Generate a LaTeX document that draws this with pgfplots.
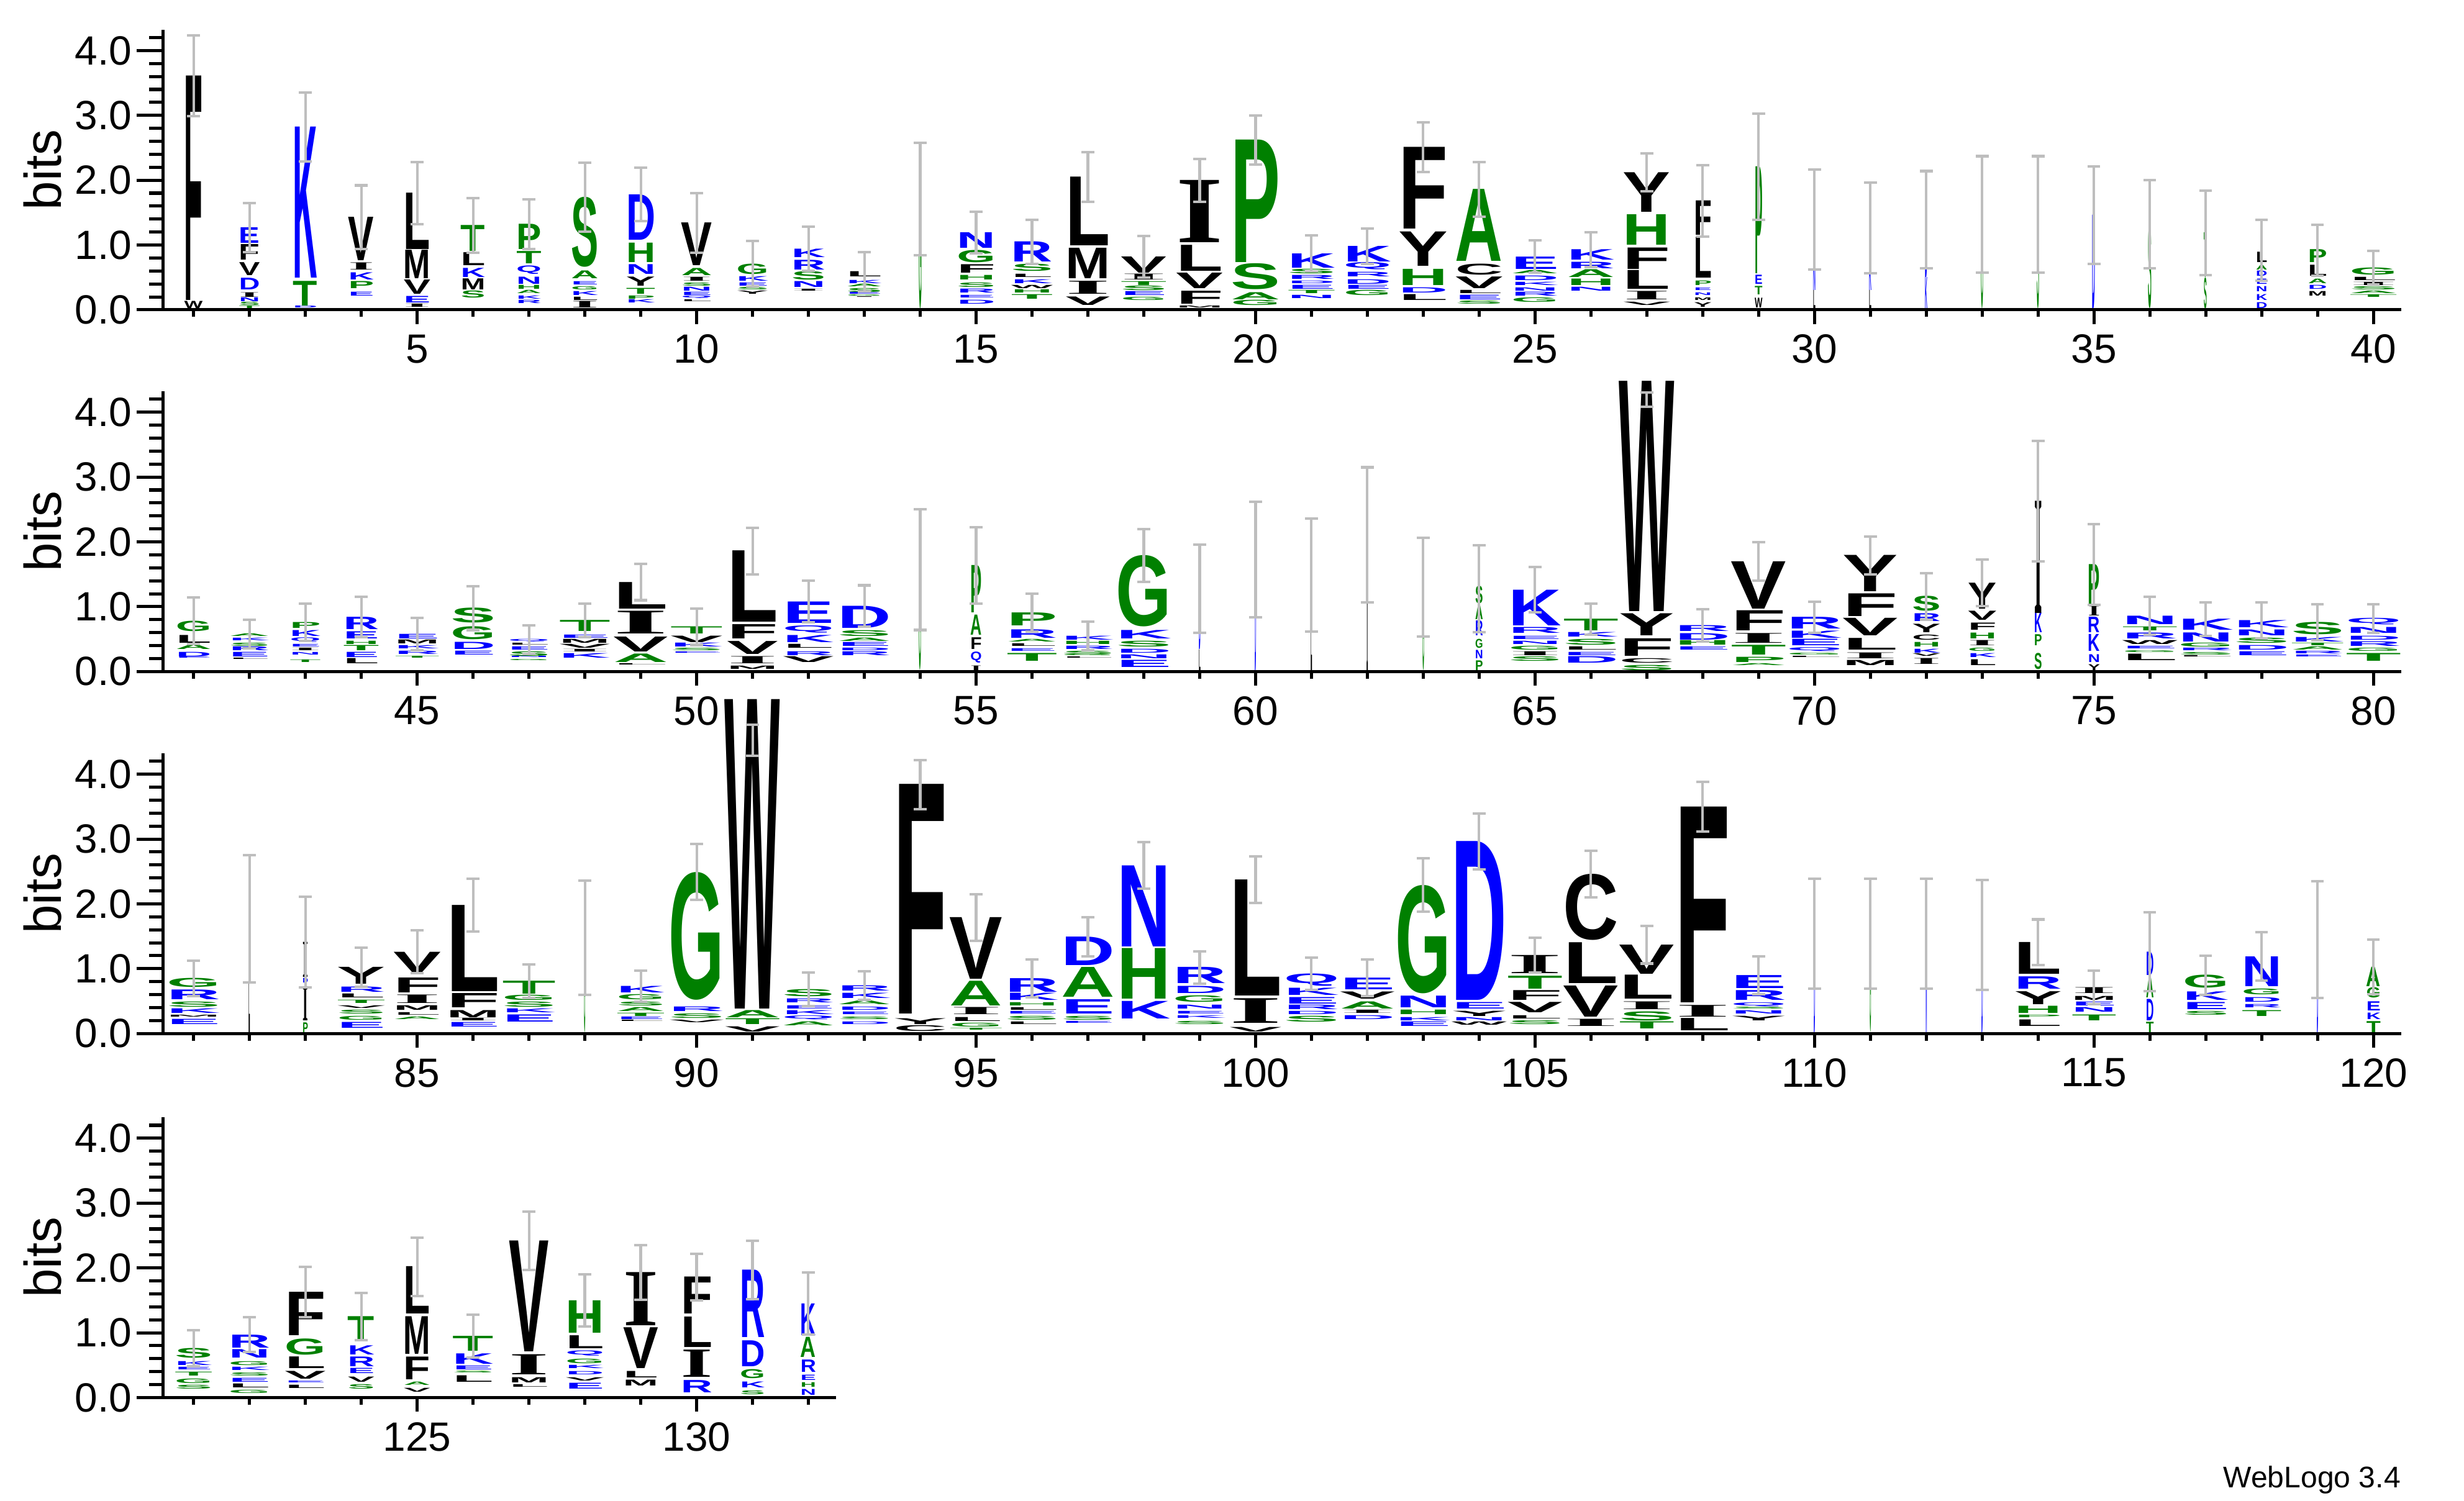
\documentclass[border=0pt]{standalone}
\usepackage{pgfplots}
\pgfplotsset{compat=1.18}
\usepackage{pgfplotstable}
\usepackage{graphicx}
\usepackage{fontspec}
\setmainfont{Liberation Sans}
\newfontfamily\serifIfont{Liberation Serif}

\definecolor{lg}{RGB}{0,128,0}
\definecolor{lb}{RGB}{0,0,255}
\definecolor{lk}{RGB}{0,0,0}
\definecolor{ebgray}{RGB}{190,190,190}
\colorlet{cG}{lg}\colorlet{cS}{lg}\colorlet{cT}{lg}\colorlet{cA}{lg}\colorlet{cP}{lg}\colorlet{cH}{lg}
\colorlet{cD}{lb}\colorlet{cE}{lb}\colorlet{cK}{lb}\colorlet{cR}{lb}\colorlet{cN}{lb}\colorlet{cQ}{lb}
\colorlet{cC}{lk}\colorlet{cV}{lk}\colorlet{cI}{lk}\colorlet{cL}{lk}\colorlet{cM}{lk}\colorlet{cF}{lk}\colorlet{cY}{lk}\colorlet{cW}{lk}
\expandafter\def\csname fI\endcsname{\serifIfont}

\newcommand\LogoLetter{%
  \edef\LLc{c\pgfplotspointmeta}%
  \edef\LLf{f\pgfplotspointmeta}%
  \expandafter\color\expandafter{\LLc}%
  \resizebox*{\ww pt}{\hh pt}{\csname\LLf\endcsname\bfseries\pgfplotspointmeta}}

\pgfplotstableread{
x lo hi w L
1 0.02 0.13 0.31 W
1 0.15 3.61 0.31 F
2 0.02 0.06 0.35 T
2 0.07 0.12 0.35 S
2 0.13 0.19 0.35 N
2 0.20 0.27 0.35 I
2 0.31 0.49 0.35 D
2 0.53 0.73 0.35 V
2 0.77 1.01 0.35 F
2 1.03 1.27 0.35 E
3 0.02 0.05 0.41 D
3 0.06 0.44 0.41 T
3 0.49 2.82 0.41 K
4 0.21 0.27 0.43 E
4 0.33 0.44 0.43 P
4 0.46 0.57 0.43 K
4 0.62 0.73 0.43 I
4 0.76 1.43 0.43 V
5 0.04 0.09 0.45 I
5 0.11 0.21 0.45 E
5 0.24 0.46 0.45 V
5 0.48 0.92 0.45 M
5 0.93 1.80 0.45 L
6 0.18 0.29 0.41 S
6 0.31 0.48 0.41 M
6 0.50 0.64 0.41 K
6 0.68 0.88 0.41 L
6 0.90 1.30 0.41 T
7 0.10 0.15 0.42 R
7 0.17 0.22 0.42 K
7 0.25 0.30 0.42 A
7 0.32 0.38 0.42 H
7 0.40 0.51 0.42 N
7 0.55 0.68 0.42 Q
7 0.71 0.90 0.42 T
7 0.93 1.32 0.42 P
8 0.03 0.13 0.46 I
8 0.15 0.20 0.46 L
8 0.22 0.28 0.46 K
8 0.31 0.36 0.46 G
8 0.39 0.44 0.46 E
8 0.48 0.60 0.46 A
8 0.66 1.74 0.46 S
9 0.11 0.16 0.49 K
9 0.17 0.22 0.49 P
9 0.24 0.33 0.49 T
9 0.37 0.51 0.49 Y
9 0.55 0.70 0.49 N
9 0.73 1.03 0.49 H
9 1.08 1.78 0.49 D
10 0.12 0.15 0.52 L
10 0.17 0.21 0.52 Q
10 0.22 0.27 0.52 E
10 0.29 0.35 0.52 N
10 0.37 0.42 0.52 S
10 0.44 0.50 0.52 I
10 0.53 0.64 0.52 A
10 0.68 1.34 0.52 V
11 0.24 0.29 0.54 Y
11 0.31 0.35 0.54 S
11 0.37 0.42 0.54 E
11 0.44 0.51 0.54 K
11 0.55 0.71 0.54 G
12 0.28 0.31 0.57 I
12 0.35 0.44 0.57 N
12 0.46 0.59 0.57 S
12 0.62 0.77 0.57 R
12 0.81 0.94 0.57 K
13 0.18 0.19 0.60 I
13 0.20 0.22 0.60 G
13 0.23 0.26 0.60 E
13 0.27 0.33 0.60 S
13 0.35 0.39 0.60 A
13 0.41 0.46 0.60 K
13 0.51 0.59 0.60 L
14 0.02 1.71 0.05 G
15 0.09 0.15 0.65 D
15 0.18 0.22 0.65 E
15 0.26 0.32 0.65 R
15 0.35 0.42 0.65 S
15 0.46 0.53 0.65 H
15 0.57 0.70 0.65 F
15 0.73 0.92 0.65 G
15 0.95 1.19 0.65 N
16 0.17 0.24 0.70 T
16 0.26 0.31 0.70 H
16 0.33 0.38 0.70 W
16 0.41 0.47 0.70 K
16 0.50 0.55 0.70 L
16 0.60 0.71 0.70 S
16 0.74 1.05 0.70 R
17 0.07 0.20 0.75 V
17 0.24 0.44 0.75 I
17 0.48 0.95 0.75 M
17 0.99 2.05 0.75 L
18 0.15 0.20 0.77 G
18 0.22 0.28 0.77 E
18 0.30 0.37 0.77 S
18 0.38 0.44 0.77 T
18 0.46 0.55 0.77 I
18 0.57 0.82 0.77 V
19 0.02 0.05 0.79 M
19 0.09 0.29 0.79 F
19 0.33 0.57 0.79 V
19 0.60 1.00 0.79 L
19 1.04 2.00 0.79 I
20 0.07 0.15 0.83 G
20 0.16 0.27 0.83 A
20 0.31 0.71 0.83 S
20 0.73 2.62 0.83 P
21 0.18 0.23 0.80 N
21 0.25 0.30 0.80 T
21 0.32 0.38 0.80 E
21 0.40 0.44 0.80 D
21 0.47 0.53 0.80 R
21 0.56 0.63 0.80 S
21 0.65 0.87 0.80 K
22 0.22 0.30 0.80 G
22 0.32 0.38 0.80 E
22 0.40 0.47 0.80 D
22 0.51 0.58 0.80 R
22 0.62 0.73 0.80 Q
22 0.74 0.98 0.80 K
23 0.15 0.24 0.83 L
23 0.26 0.34 0.83 D
23 0.38 0.63 0.83 H
23 0.67 1.20 0.83 Y
23 1.25 2.51 0.83 F
24 0.09 0.14 0.80 S
24 0.16 0.23 0.80 E
24 0.25 0.30 0.80 L
24 0.33 0.51 0.80 V
24 0.54 0.71 0.80 C
24 0.75 1.86 0.80 A
25 0.12 0.19 0.80 G
25 0.21 0.27 0.80 R
25 0.29 0.34 0.80 N
25 0.38 0.43 0.80 K
25 0.45 0.52 0.80 D
25 0.56 0.61 0.80 A
25 0.63 0.82 0.80 E
26 0.29 0.35 0.80 N
26 0.38 0.48 0.80 H
26 0.50 0.62 0.80 A
26 0.64 0.74 0.80 R
26 0.77 0.93 0.80 K
27 0.07 0.12 0.80 V
27 0.16 0.29 0.80 I
27 0.32 0.61 0.80 L
27 0.63 0.96 0.80 F
27 1.00 1.47 0.80 H
27 1.51 2.12 0.80 Y
28 0.04 0.11 0.30 Y
28 0.14 0.18 0.30 M
28 0.22 0.26 0.30 N
28 0.30 0.34 0.30 E
28 0.38 0.45 0.30 P
28 0.49 1.12 0.30 L
28 1.15 1.68 0.30 F
29 0.03 0.18 0.13 W
29 0.23 0.36 0.13 T
29 0.40 0.54 0.13 E
29 0.56 2.21 0.13 P
30 0.02 0.30 0.04 L
30 0.30 0.80 0.04 N
30 0.80 1.39 0.04 G
31 0.02 0.30 0.04 L
31 0.30 0.80 0.04 K
31 0.80 1.26 0.04 S
32 0.02 0.50 0.04 K
32 0.50 1.39 0.04 D
33 0.02 1.47 0.04 G
34 0.02 1.47 0.04 S
35 0.02 1.46 0.05 D
36 0.02 1.32 0.06 S
37 0.02 0.50 0.05 S
37 0.50 1.19 0.05 T
38 0.02 0.11 0.19 D
38 0.15 0.24 0.19 K
38 0.28 0.36 0.19 N
38 0.40 0.48 0.19 E
38 0.52 0.60 0.19 D
38 0.62 0.69 0.19 A
38 0.73 0.89 0.19 L
39 0.21 0.28 0.32 M
39 0.32 0.38 0.32 D
39 0.41 0.48 0.32 A
39 0.52 0.69 0.32 L
39 0.73 0.93 0.32 P
40 0.19 0.23 0.80 T
40 0.25 0.29 0.80 A
40 0.31 0.36 0.80 S
40 0.38 0.43 0.80 I
40 0.45 0.50 0.80 L
40 0.54 0.65 0.80 G
}\rowone

\pgfplotstableread{
x c e
1 3.61 0.62
2 1.27 0.38
3 2.82 0.53
4 1.43 0.49
5 1.80 0.48
6 1.30 0.42
7 1.32 0.38
8 1.74 0.53
9 1.78 0.41
10 1.34 0.46
11 0.71 0.35
12 0.94 0.34
13 0.59 0.30
14 1.71 0.87
15 1.19 0.32
16 1.05 0.34
17 2.05 0.38
18 0.82 0.32
19 2.00 0.33
20 2.62 0.38
21 0.87 0.28
22 0.98 0.27
23 2.51 0.38
24 1.86 0.42
25 0.82 0.25
26 0.93 0.27
27 2.12 0.29
28 1.68 0.55
29 2.21 0.82
30 1.39 0.77
31 1.26 0.70
32 1.39 0.75
33 1.47 0.90
34 1.47 0.90
35 1.46 0.75
36 1.32 0.68
37 1.19 0.65
38 0.92 0.47
39 0.92 0.39
40 0.65 0.26
}\errone

\pgfplotstableread{
x lo hi w L
41 0.19 0.21 0.60 E
41 0.23 0.30 0.60 D
41 0.34 0.41 0.60 A
41 0.44 0.56 0.60 L
41 0.62 0.78 0.60 G
42 0.18 0.20 0.68 L
42 0.23 0.30 0.68 E
42 0.32 0.38 0.68 R
42 0.39 0.44 0.68 S
42 0.47 0.51 0.68 K
42 0.54 0.58 0.68 A
43 0.14 0.18 0.52 T
43 0.25 0.29 0.52 N
43 0.32 0.36 0.52 I
43 0.38 0.42 0.52 E
43 0.45 0.52 0.52 Q
43 0.54 0.63 0.52 K
43 0.67 0.76 0.52 P
44 0.12 0.20 0.60 L
44 0.22 0.30 0.60 E
44 0.32 0.40 0.60 T
44 0.42 0.47 0.60 H
44 0.51 0.62 0.60 E
44 0.65 0.84 0.60 R
45 0.20 0.23 0.75 T
45 0.27 0.32 0.75 R
45 0.35 0.40 0.75 K
45 0.43 0.49 0.75 M
45 0.51 0.58 0.75 E
46 0.26 0.32 0.75 E
46 0.34 0.45 0.75 D
46 0.49 0.69 0.75 G
46 0.75 0.98 0.75 S
47 0.16 0.18 0.70 G
47 0.20 0.22 0.70 N
47 0.24 0.31 0.70 S
47 0.33 0.38 0.70 E
47 0.40 0.43 0.70 L
47 0.45 0.49 0.70 Q
48 0.21 0.28 0.86 K
48 0.30 0.34 0.86 I
48 0.36 0.42 0.86 V
48 0.44 0.50 0.86 M
48 0.52 0.57 0.86 E
48 0.62 0.79 0.86 T
49 0.09 0.11 0.92 L
49 0.14 0.27 0.92 A
49 0.30 0.53 0.92 V
49 0.58 0.93 0.92 I
49 0.97 1.38 0.92 L
50 0.27 0.29 0.88 E
50 0.32 0.36 0.88 S
50 0.38 0.44 0.88 K
50 0.45 0.55 0.88 V
50 0.58 0.69 0.88 T
51 0.04 0.09 0.86 M
51 0.12 0.23 0.86 I
51 0.27 0.47 0.86 V
51 0.51 0.73 0.86 F
51 0.76 1.86 0.86 L
52 0.14 0.23 0.86 V
52 0.25 0.31 0.86 R
52 0.36 0.42 0.86 L
52 0.45 0.56 0.86 K
52 0.60 0.71 0.86 Q
52 0.75 1.08 0.86 E
53 0.25 0.31 0.90 R
53 0.32 0.36 0.90 D
53 0.39 0.45 0.90 E
53 0.47 0.52 0.90 A
53 0.54 0.63 0.90 S
53 0.67 1.01 0.90 D
54 0.02 1.57 0.04 G
55 0.01 0.09 0.19 I
55 0.13 0.30 0.19 Q
55 0.34 0.52 0.19 F
55 0.56 0.87 0.19 A
55 0.91 1.64 0.19 P
56 0.16 0.28 0.85 T
56 0.31 0.35 0.85 E
56 0.39 0.43 0.85 L
56 0.45 0.49 0.85 A
56 0.52 0.65 0.85 R
56 0.71 0.91 0.85 P
57 0.19 0.21 0.88 L
57 0.23 0.25 0.88 G
57 0.27 0.32 0.88 S
57 0.34 0.39 0.88 R
57 0.42 0.47 0.88 H
57 0.49 0.55 0.88 K
58 0.07 0.18 0.93 E
58 0.20 0.26 0.93 N
58 0.29 0.35 0.93 D
58 0.38 0.47 0.93 S
58 0.51 0.64 0.93 K
58 0.69 1.79 0.93 G
59 0.02 0.34 0.03 L
59 0.34 1.28 0.03 D
60 0.02 1.73 0.025 D
61 0.02 1.49 0.025 L
62 0.02 2.11 0.025 I
63 0.02 1.30 0.03 G
64 0.02 0.17 0.13 P
64 0.20 0.33 0.13 N
64 0.36 0.50 0.13 G
64 0.55 0.78 0.13 R
64 0.80 1.03 0.13 A
64 1.05 1.32 0.13 S
65 0.16 0.23 0.89 S
65 0.25 0.31 0.89 I
65 0.33 0.39 0.89 G
65 0.42 0.47 0.89 N
65 0.50 0.55 0.89 E
65 0.59 0.68 0.89 R
65 0.71 1.26 0.89 K
66 0.13 0.23 0.93 D
66 0.25 0.30 0.93 E
66 0.33 0.38 0.93 L
66 0.41 0.50 0.93 S
66 0.53 0.60 0.93 K
66 0.63 0.81 0.93 T
67 0.02 0.10 0.93 S
67 0.13 0.20 0.93 C
67 0.24 0.51 0.93 F
67 0.55 0.89 0.93 Y
67 0.93 4.48 0.93 W
68 0.33 0.38 0.93 E
68 0.41 0.48 0.93 H
68 0.49 0.59 0.93 D
68 0.62 0.71 0.93 R
69 0.08 0.11 0.93 A
69 0.14 0.22 0.93 P
69 0.26 0.41 0.93 T
69 0.44 0.59 0.93 I
69 0.63 0.94 0.93 F
69 0.97 1.70 0.93 V
70 0.20 0.22 0.93 L
70 0.25 0.28 0.93 G
70 0.31 0.37 0.93 Q
70 0.40 0.50 0.93 E
70 0.52 0.63 0.93 K
70 0.66 0.84 0.93 R
71 0.09 0.17 0.93 M
71 0.20 0.29 0.93 I
71 0.33 0.51 0.93 L
71 0.55 0.82 0.93 V
71 0.85 1.20 0.93 F
71 1.23 1.79 0.93 Y
72 0.11 0.20 0.48 I
72 0.23 0.27 0.48 V
72 0.29 0.35 0.48 K
72 0.38 0.45 0.48 H
72 0.49 0.57 0.48 C
72 0.60 0.73 0.48 Y
72 0.77 0.89 0.48 R
72 0.93 1.16 0.48 S
73 0.09 0.18 0.48 L
73 0.22 0.28 0.48 K
73 0.31 0.36 0.48 G
73 0.40 0.48 0.48 I
73 0.51 0.60 0.48 H
73 0.64 0.75 0.48 F
73 0.79 0.93 0.48 V
73 0.97 1.37 0.48 Y
74 0.03 0.28 0.13 S
74 0.40 0.57 0.13 P
74 0.60 0.90 0.13 K
74 0.90 2.63 0.13 I
75 0.02 0.11 0.20 Y
75 0.14 0.26 0.20 N
75 0.31 0.57 0.20 K
75 0.60 0.84 0.20 R
75 0.86 1.01 0.20 I
75 1.04 1.65 0.20 P
76 0.17 0.27 0.93 L
76 0.29 0.32 0.93 G
76 0.35 0.39 0.93 E
76 0.42 0.48 0.93 W
76 0.51 0.60 0.93 R
76 0.63 0.69 0.93 T
76 0.73 0.86 0.93 N
77 0.21 0.23 0.93 L
77 0.25 0.29 0.93 S
77 0.32 0.36 0.93 R
77 0.38 0.44 0.93 G
77 0.46 0.60 0.93 N
77 0.64 0.81 0.93 K
78 0.25 0.31 0.93 E
78 0.33 0.40 0.93 D
78 0.44 0.52 0.93 S
78 0.55 0.64 0.93 N
78 0.68 0.79 0.93 K
79 0.22 0.25 0.89 E
79 0.27 0.31 0.89 R
79 0.33 0.38 0.89 A
79 0.40 0.44 0.89 T
79 0.46 0.53 0.89 K
79 0.57 0.76 0.89 S
80 0.16 0.28 0.93 T
80 0.31 0.36 0.93 G
80 0.39 0.46 0.93 R
80 0.49 0.55 0.93 D
80 0.59 0.68 0.93 N
80 0.72 0.82 0.93 Q
}\rowtwo

\pgfplotstableread{
x c e
41 0.78 0.36
42 0.58 0.22
43 0.76 0.29
44 0.84 0.31
45 0.58 0.25
46 0.98 0.34
47 0.49 0.22
48 0.79 0.26
49 1.38 0.28
50 0.69 0.28
51 1.86 0.36
52 1.08 0.32
53 1.01 0.32
54 1.57 0.93
55 1.64 0.59
56 0.91 0.29
57 0.55 0.22
58 1.79 0.41
59 1.28 0.68
60 1.73 0.89
61 1.49 0.87
62 2.11 1.04
63 1.30 0.76
64 1.28 0.67
65 1.26 0.35
66 0.81 0.24
67 4.19 0.11
68 0.71 0.25
69 1.70 0.30
70 0.84 0.24
71 1.79 0.29
72 1.16 0.36
73 1.37 0.36
74 2.63 0.93
75 1.65 0.62
76 0.86 0.29
77 0.81 0.26
78 0.79 0.28
79 0.76 0.28
80 0.82 0.22
}\errtwo

\pgfplotstableread{
x lo hi w L
81 0.14 0.22 0.90 E
81 0.25 0.28 0.90 M
81 0.31 0.38 0.90 K
81 0.41 0.49 0.90 S
81 0.52 0.67 0.90 R
81 0.71 0.85 0.90 G
82 0.02 1.77 0.025 L
83 0.01 0.17 0.09 P
83 0.20 0.71 0.09 I
83 0.78 0.85 0.09 D
83 0.87 1.41 0.09 I
84 0.08 0.17 0.81 E
84 0.21 0.27 0.81 G
84 0.30 0.36 0.81 S
84 0.39 0.43 0.81 V
84 0.47 0.52 0.81 T
84 0.55 0.61 0.81 L
84 0.64 0.72 0.81 R
84 0.76 1.02 0.81 Y
85 0.21 0.25 0.80 A
85 0.28 0.32 0.80 L
85 0.36 0.43 0.80 M
85 0.47 0.60 0.80 I
85 0.63 0.86 0.80 F
85 0.95 1.26 0.80 V
86 0.10 0.17 0.90 E
86 0.19 0.23 0.90 I
86 0.25 0.36 0.90 M
86 0.40 0.62 0.90 F
86 0.65 1.98 0.90 L
87 0.18 0.29 0.90 E
87 0.32 0.38 0.90 K
87 0.41 0.49 0.90 S
87 0.51 0.59 0.90 G
87 0.61 0.81 0.90 T
88 0.02 1.48 0.025 G
89 0.17 0.19 0.81 L
89 0.21 0.25 0.81 E
89 0.27 0.32 0.81 T
89 0.34 0.40 0.81 A
89 0.43 0.49 0.81 S
89 0.52 0.60 0.81 G
89 0.63 0.73 0.81 K
90 0.17 0.21 0.93 V
90 0.24 0.31 0.93 S
90 0.34 0.41 0.93 R
90 0.52 2.49 0.93 G
91 0.03 0.11 0.93 V
91 0.14 0.23 0.93 T
91 0.25 0.36 0.93 A
91 0.38 5.15 0.93 W
92 0.12 0.18 0.88 A
92 0.21 0.27 0.88 Q
92 0.29 0.35 0.88 K
92 0.38 0.43 0.88 E
92 0.48 0.54 0.88 R
92 0.57 0.68 0.88 S
93 0.14 0.18 0.90 D
93 0.21 0.25 0.90 S
93 0.29 0.33 0.90 E
93 0.36 0.41 0.90 D
93 0.45 0.51 0.90 A
93 0.54 0.62 0.90 K
93 0.66 0.74 0.90 R
94 0.03 0.12 0.90 C
94 0.14 0.23 0.90 Y
94 0.30 3.84 0.90 F
95 0.05 0.08 0.89 T
95 0.10 0.16 0.89 G
95 0.19 0.25 0.89 L
95 0.29 0.40 0.89 I
95 0.43 0.81 0.89 A
95 0.84 1.79 0.89 V
96 0.14 0.18 0.90 L
96 0.21 0.27 0.90 S
96 0.30 0.34 0.90 E
96 0.36 0.40 0.90 L
96 0.43 0.48 0.90 H
96 0.51 0.62 0.90 K
96 0.64 0.85 0.90 R
97 0.15 0.18 0.90 E
97 0.21 0.27 0.90 S
97 0.30 0.52 0.90 E
97 0.56 1.02 0.90 A
97 1.05 1.49 0.90 D
98 0.23 0.50 0.90 K
98 0.53 1.31 0.90 H
98 1.34 2.59 0.90 N
99 0.14 0.19 0.90 S
99 0.23 0.27 0.90 K
99 0.30 0.34 0.90 E
99 0.38 0.44 0.90 N
99 0.48 0.58 0.90 G
99 0.62 0.73 0.90 D
99 0.77 1.02 0.90 R
100 0.03 0.10 0.88 V
100 0.16 0.54 0.88 I
100 0.58 2.37 0.88 L
101 0.18 0.27 0.93 S
101 0.29 0.34 0.93 D
101 0.37 0.44 0.93 R
101 0.46 0.56 0.93 E
101 0.59 0.70 0.93 K
101 0.73 0.92 0.93 Q
102 0.22 0.28 0.93 D
102 0.31 0.36 0.93 I
102 0.38 0.49 0.93 A
102 0.53 0.64 0.93 V
102 0.68 0.86 0.93 E
103 0.11 0.18 0.93 E
103 0.20 0.25 0.93 K
103 0.29 0.36 0.93 H
103 0.40 0.58 0.93 N
103 0.62 2.29 0.93 G
104 0.13 0.18 0.93 W
104 0.20 0.25 0.93 N
104 0.27 0.35 0.93 Y
104 0.38 0.48 0.93 E
104 0.51 2.96 0.93 D
105 0.14 0.20 0.93 S
105 0.23 0.28 0.93 L
105 0.32 0.48 0.93 V
105 0.51 0.66 0.93 F
105 0.69 0.89 0.93 T
105 0.93 1.21 0.93 I
106 0.11 0.22 0.93 I
106 0.26 0.74 0.93 V
106 0.77 1.40 0.93 L
106 1.44 2.46 0.93 C
107 0.07 0.18 0.93 T
107 0.20 0.34 0.93 S
107 0.37 0.49 0.93 I
107 0.53 0.90 0.93 L
107 0.92 1.37 0.93 V
108 0.05 0.24 0.93 L
108 0.26 0.44 0.93 I
108 0.48 3.50 0.93 F
109 0.20 0.27 0.93 Y
109 0.30 0.35 0.93 N
109 0.37 0.40 0.93 S
109 0.42 0.48 0.93 Q
109 0.51 0.66 0.93 R
109 0.70 0.90 0.93 E
110 0.02 1.54 0.025 D
111 0.02 1.54 0.025 G
112 0.02 1.54 0.025 N
113 0.02 1.52 0.025 D
114 0.11 0.21 0.80 L
114 0.24 0.28 0.80 P
114 0.31 0.42 0.80 H
114 0.45 0.65 0.80 Y
114 0.69 0.88 0.80 R
114 0.92 1.41 0.80 L
115 0.20 0.29 0.75 T
115 0.33 0.40 0.75 N
115 0.43 0.49 0.75 E
115 0.51 0.57 0.75 M
115 0.62 0.71 0.75 I
116 0.02 0.18 0.13 T
116 0.20 0.53 0.13 D
116 0.55 0.88 0.13 A
116 0.90 1.26 0.13 D
117 0.28 0.34 0.77 S
117 0.37 0.48 0.77 E
117 0.51 0.64 0.77 K
117 0.70 0.90 0.77 G
118 0.27 0.36 0.67 T
118 0.40 0.45 0.67 R
118 0.49 0.56 0.67 D
118 0.60 0.69 0.67 G
118 0.73 1.19 0.67 N
119 0.02 1.45 0.025 D
120 0.02 0.19 0.24 T
120 0.22 0.32 0.24 K
120 0.35 0.49 0.24 E
120 0.55 0.71 0.24 G
120 0.73 1.03 0.24 A
}\rowthree

\pgfplotstableread{
x c e
81 0.85 0.27
82 1.77 0.98
83 1.41 0.70
84 1.02 0.30
85 1.26 0.33
86 1.98 0.41
87 0.81 0.26
88 1.48 0.88
89 0.73 0.24
90 2.49 0.43
91 4.52 0.24
92 0.68 0.26
93 0.74 0.22
94 3.84 0.38
95 1.79 0.36
96 0.85 0.29
97 1.49 0.30
98 2.59 0.36
99 1.02 0.25
100 2.37 0.36
101 0.92 0.25
102 0.86 0.28
103 2.29 0.41
104 2.96 0.43
105 1.21 0.27
106 2.46 0.36
107 1.37 0.29
108 3.50 0.38
109 0.90 0.29
110 1.54 0.85
111 1.54 0.85
112 1.54 0.85
113 1.52 0.85
114 1.41 0.35
115 0.71 0.26
116 1.26 0.61
117 0.90 0.30
118 1.19 0.37
119 1.45 0.90
120 1.03 0.42
}\errthree

\pgfplotstableread{
x lo hi w L
121 0.13 0.19 0.63 S
121 0.22 0.29 0.63 G
121 0.33 0.39 0.63 T
121 0.43 0.47 0.63 E
121 0.50 0.56 0.63 K
121 0.61 0.76 0.63 S
122 0.07 0.12 0.70 G
122 0.15 0.21 0.70 L
122 0.24 0.30 0.70 E
122 0.33 0.38 0.70 S
122 0.42 0.47 0.70 K
122 0.50 0.56 0.70 G
122 0.61 0.74 0.70 N
122 0.77 0.97 0.70 R
123 0.14 0.19 0.69 L
123 0.22 0.25 0.69 E
123 0.29 0.41 0.69 V
123 0.45 0.63 0.69 L
123 0.66 0.91 0.69 G
123 0.96 1.63 0.69 F
124 0.13 0.20 0.45 S
124 0.24 0.32 0.45 V
124 0.37 0.45 0.45 E
124 0.48 0.63 0.45 R
124 0.66 0.80 0.45 K
124 0.88 1.25 0.45 T
125 0.09 0.15 0.45 V
125 0.19 0.24 0.45 A
125 0.28 0.63 0.45 F
125 0.67 1.25 0.45 M
125 1.29 2.02 0.45 L
126 0.24 0.34 0.69 L
126 0.37 0.40 0.69 S
126 0.43 0.49 0.69 E
126 0.52 0.68 0.69 K
126 0.72 0.95 0.69 T
127 0.16 0.20 0.67 L
127 0.23 0.31 0.67 M
127 0.35 0.66 0.67 I
127 0.71 2.42 0.67 V
128 0.13 0.22 0.65 E
128 0.26 0.31 0.65 V
128 0.35 0.40 0.65 D
128 0.45 0.50 0.65 K
128 0.53 0.60 0.65 G
128 0.64 0.72 0.65 Q
128 0.76 0.96 0.65 L
128 1.00 1.50 0.65 H
129 0.18 0.27 0.59 M
129 0.31 0.41 0.59 L
129 0.45 1.08 0.59 V
129 1.11 1.93 0.59 I
130 0.08 0.27 0.53 R
130 0.32 0.74 0.53 I
130 0.78 1.25 0.53 L
130 1.29 1.86 0.53 F
131 0.05 0.11 0.42 S
131 0.15 0.24 0.42 K
131 0.29 0.43 0.42 G
131 0.48 0.88 0.42 D
131 0.93 1.97 0.42 R
132 0.04 0.13 0.26 N
132 0.16 0.23 0.26 H
132 0.27 0.35 0.26 E
132 0.39 0.58 0.26 R
132 0.62 0.93 0.26 A
132 0.96 1.45 0.26 K
}\rowfour

\pgfplotstableread{
x c e
121 0.76 0.28
122 0.97 0.27
123 1.63 0.39
124 1.25 0.36
125 2.02 0.45
126 0.95 0.33
127 2.42 0.45
128 1.50 0.40
129 1.93 0.42
130 1.86 0.36
131 1.97 0.45
132 1.45 0.48
}\errfour

\pgfplotsset{
  baseA/.style={scale only axis, height=89.12pt, ymin=0, ymax=4.32, clip=false,
    anchor=south west, axis x line=none, axis y line*=left, xtick=\empty,
    axis line style={line width=1pt},
    ytick={0,1,2,3,4}, yticklabels={0.0,1.0,2.0,3.0,4.0},
    minor ytick={0,0.2,...,4.21},
    tick align=outside, major tick length=8.35pt, minor tick length=4.3pt,
    tick style={black, line width=1pt},
    yticklabel style={font=\fontsize{13}{13}\selectfont, inner sep=0pt, xshift=-1.3pt},
    ylabel={bits},
    every axis y label/.style={at={(axis description cs:0,0.5)}, xshift=-38.2pt, rotate=90, anchor=center, font=\fontsize{16.5}{16.5}\selectfont}},
  baseB/.style={scale only axis, height=89.12pt, ymin=0, ymax=4.32, clip=false,
    anchor=south west, axis y line=none, ytick=\empty, axis x line*=bottom,
    axis line style={line width=1pt},
    tick align=outside, major tick length=4.5pt, minor tick length=2.25pt,
    tick style={black, line width=1pt},
    /pgf/number format/assume math mode=true,
    xticklabel style={font=\fontsize{13}{13}\selectfont, inner sep=0pt, yshift=-3.2pt}},
  letters/.style={draw=none, mark=none, point meta=explicit symbolic,
    visualization depends on={(\thisrow{hi}-\thisrow{lo})*20.63 \as \hh},
    visualization depends on={\thisrow{w}*19.0 \as \ww},
    nodes near coords={\LogoLetter},
    every node near coord/.append style={inner sep=0pt, outer sep=0pt, anchor=south}},
  ebars/.style={draw=none, mark=none,
    error bars/.cd, y dir=both, y explicit,
    error bar style={draw=ebgray, line width=0.8pt},
    error mark options={draw=ebgray, line width=0.8pt, mark size=2pt, rotate=90}}
}

\begin{document}
\begin{tikzpicture}
\path[use as bounding box] (0,0) rectangle (784pt,477.5pt);
% row 1
\begin{axis}[baseA, at={(51.8pt,378.9pt)}, width=712.3pt, xmin=0.45, xmax=40.5]
\addplot[letters] table[x=x,y=lo,meta=L]{\rowone};
\end{axis}
\begin{axis}[baseB, at={(51.8pt,378.9pt)}, width=712.3pt, xmin=0.45, xmax=40.5,
  xtick={5,10,...,40}, minor xtick={1,...,40}]
\addplot[ebars] table[x=x,y=c,y error=e]{\errone};
\end{axis}
% row 2
\begin{axis}[baseA, at={(51.8pt,263.8pt)}, width=712.3pt, xmin=40.45, xmax=80.5]
\addplot[letters] table[x=x,y=lo,meta=L]{\rowtwo};
\end{axis}
\begin{axis}[baseB, at={(51.8pt,263.8pt)}, width=712.3pt, xmin=40.45, xmax=80.5,
  xtick={45,50,...,80}, minor xtick={41,...,80}]
\addplot[ebars] table[x=x,y=c,y error=e]{\errtwo};
\end{axis}
% row 3
\begin{axis}[baseA, at={(51.8pt,148.6pt)}, width=712.3pt, xmin=80.45, xmax=120.5]
\addplot[letters] table[x=x,y=lo,meta=L]{\rowthree};
\end{axis}
\begin{axis}[baseB, at={(51.8pt,148.6pt)}, width=712.3pt, xmin=80.45, xmax=120.5,
  xtick={85,90,...,120}, minor xtick={81,...,120}]
\addplot[ebars] table[x=x,y=c,y error=e]{\errthree};
\end{axis}
% row 4
\begin{axis}[baseA, at={(51.8pt,32.75pt)}, width=214.3pt, xmin=120.45, xmax=132.5]
\addplot[letters] table[x=x,y=lo,meta=L]{\rowfour};
\end{axis}
\begin{axis}[baseB, at={(51.8pt,32.75pt)}, width=214.3pt, xmin=120.45, xmax=132.5,
  xtick={125,130}, minor xtick={121,...,132}]
\addplot[ebars] table[x=x,y=c,y error=e]{\errfour};
\end{axis}
\node[anchor=east, inner sep=0pt, font=\fontsize{9.5}{9.5}\selectfont] at (764pt,6.5pt) {WebLogo 3.4};
\end{tikzpicture}
\end{document}
